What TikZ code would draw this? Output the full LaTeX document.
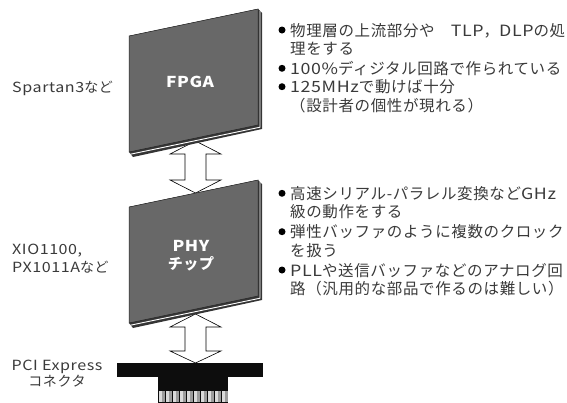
\documentclass[tikz,border=0pt]{standalone}
\usepackage{fontspec}
\setmainfont{Noto Sans CJK JP}[LetterSpace=4]
\newfontfamily\latinrun{Noto Sans CJK JP}[FakeStretch=1.15, LetterSpace=4]
\newcommand\la[1]{{\latinrun #1}}
\usetikzlibrary{calc}
\definecolor{facegray}{HTML}{686868}
\definecolor{edgegray}{HTML}{353535}
\definecolor{inkgray}{HTML}{3A3A3A}
\definecolor{pinlight}{HTML}{DADADA}
\definecolor{pinmid}{HTML}{9C9C9C}

\tikzset{
  txt/.style={inner sep=0pt, text=inkgray, font=\fontsize{15.5}{18}\selectfont, anchor=base west},
  lbl/.style={inner sep=0pt, text=inkgray, font=\fontsize{14}{16.5}\selectfont},
  chiplbl/.style={inner sep=0pt, text=white, font=\fontsize{15}{18}\selectfont\bfseries},
  dot/.style={circle, fill=black, inner sep=0pt, minimum size=7pt},
  hollowarrow/.style={draw=black, line width=0.6pt, fill=white, line join=miter},
  face/.style={fill=facegray, draw=black!85, line width=0.5pt},
  slab/.style={fill=edgegray},
  shine/.style={draw=white, line width=0.9pt},
  blackbar/.style={fill=black!95, inner sep=0pt, anchor=north west},
  % a tilted board seen in perspective, with its thickness showing
  panel/.pic={
    \fill[slab] (0,0) -- (129,-27) -- (133,-23) -- (133,93) -- (4,121) -- (0,116) -- cycle;
    \draw[shine] (1.5,118.2) -- (131,91.2) -- (131,-25);
    \filldraw[face] (0,0) -- (129,-27) -- (129,89) -- (0,116) -- cycle;
  }
}

\begin{document}
\begin{tikzpicture}[x=1pt, y=-1pt]
\useasboundingbox (0,0) rectangle (567,402);

% ---- double arrows (drawn first so the boards cover their tips)
\coordinate (a1up) at (195.5,141);
\coordinate (a1dn) at (195.5,193);
\coordinate (a2up) at (195.5,314);
\coordinate (a2dn) at (195.5,363);
\draw[hollowarrow] (a1up) -- ++(-25.5,13) -- ++(15,0) -- ($(a1dn)+(-10.5,-13)$) -- ++(-15,0)
  -- (a1dn) -- ++(25.5,-13) -- ++(-15,0) -- ($(a1up)+(10.5,13)$) -- ++(15,0) -- cycle;
\draw[hollowarrow] (a2up) -- ++(-25.5,13) -- ++(15,0) -- ($(a2dn)+(-10.5,-12)$) -- ++(-15,0)
  -- (a2dn) -- ++(25.5,-12) -- ++(-15,0) -- ($(a2up)+(10.5,13)$) -- ++(15,0) -- cycle;

% ---- boards
\pic (fpgaboard) at (129,36) {panel};
\pic (phyboard) at (129,207) {panel};
\node[chiplbl] (fpga) at (190,82) {\la{FPGA}};
\node[chiplbl, align=center] (phy) at (191,256) {\la{PHY}\\チップ};

% ---- connector
\node[blackbar, minimum width=146pt, minimum height=14pt] (conbar) at (117,363) {};
\node[blackbar, minimum width=70pt, minimum height=28pt] (conbody) at (158,377) {};
\foreach \i in {0,...,9}{
  \fill[pinlight] (158.8+7*\i,391) rectangle ++(3.3,11);
  \fill[pinmid] (162.3+7*\i,391) rectangle ++(2.4,11);
}

% ---- left labels
\node[lbl, anchor=base west] (spartan) at (12,92.5) {\la{Spartan3}など};
\node[lbl, anchor=base west] (xio) at (12,254.5) {\la{XIO1100,}};
\node[lbl, anchor=base west] (px) at (12,272.5) {\la{PX1011A}など};
\node[lbl, align=center] (pcie) at (57,373.5) {\la{PCI Express}\\コネクタ};

% ---- notes beside the FPGA
\node[dot] (d11) at (282,30) {};
\node[txt] (t11) at (290,36) {物理層の上流部分や　\la{TLP}，\la{DLP}の処};
\node[txt] (t12) at (290,54.3) {理をする};
\node[dot] (d12) at (282,68.3) {};
\node[txt] (t13) at (290,74.3) {\la{100\%}ディジタル回路で作られている};
\node[dot] (d13) at (282,86.7) {};
\node[txt] (t14) at (290,92.7) {\la{125MHz}で動けば十分};
\node[txt] (t15) at (290,111) {（設計者の個性が現れる）};

% ---- notes beside the PHY
\node[dot] (d21) at (282,193.3) {};
\node[txt] (t21) at (290,199.3) {高速シリアル-パラレル変換など\la{GHz}};
\node[txt] (t22) at (290,217.7) {級の動作をする};
\node[dot] (d22) at (282,231.7) {};
\node[txt] (t23) at (290,237.7) {弾性バッファのように複数のクロック};
\node[txt] (t24) at (290,256) {を扱う};
\node[dot] (d23) at (282,270) {};
\node[txt] (t25) at (290,276) {\la{PLL}や送信バッファなどのアナログ回};
\node[txt] (t26) at (290,294.3) {路（汎用的な部品で作るのは難しい）};
\end{tikzpicture}
\end{document}
